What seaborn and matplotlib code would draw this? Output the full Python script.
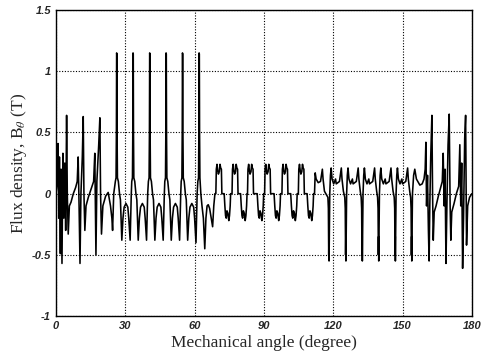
import matplotlib
matplotlib.use("Agg")
import matplotlib.pyplot as plt
import seaborn as sns
import pandas as pd

# ---- data: (mechanical angle in degrees, flux density in T) ----
seg_start = [(0.0, 0.0), (0.5, 0.08), (0.9, 0.41), (1.2, -0.2), (1.5, 0.3), (1.9, -0.49),
             (2.2, 0.2), (2.6, -0.57), (3.0, 0.33), (3.4, -0.2), (3.8, 0.25), (4.2, -0.3),
             (4.6, 0.64), (4.9, 0.0), (5.3, -0.33), (5.8, -0.1), (6.5, -0.07), (7.5, 0.0),
             (8.5, 0.05), (9.2, 0.1), (9.6, 0.3), (10.0, -0.1), (10.4, -0.57), (10.8, 0.0),
             (11.4, 0.3), (11.8, 0.63), (12.1, 0.0), (12.5, -0.3), (13.0, -0.1), (14.0, -0.03),
             (15.4, 0.05), (16.3, 0.1), (16.8, 0.33), (17.3, -0.5), (17.7, 0.1), (18.5, 0.4),
             (19.0, 0.62), (19.3, 0.0), (19.7, -0.33), (20.3, -0.1), (21.5, -0.02), (22.6, 0.01),
             (23.6, -0.1), (24.2, -0.2), (24.5, -0.3), (25.0, 0.0)]

seg_spikes = [(25.7, 0.10), (26.0, 0.13), (26.15, 0.5), (26.25, 1.15), (26.35, 1.14), (26.45, 0.5), (26.6, 0.13),
              (27.0, 0.10), (27.5, 0.0), (27.9, -0.05), (28.5, -0.38), (29.0, -0.2), (29.5, -0.11),
              (30.3, -0.08), (31.1, -0.11), (31.5, -0.2), (32.1, -0.38), (32.6, 0.0),
              (32.8, 0.10), (33.1, 0.13), (33.25, 0.5), (33.35, 1.15), (33.45, 1.14), (33.55, 0.5), (33.7, 0.13),
              (34.1, 0.10), (34.6, 0.0), (35.0, -0.05), (35.6, -0.38), (36.1, -0.2), (36.6, -0.11),
              (37.4, -0.08), (38.2, -0.11), (38.6, -0.2), (39.2, -0.38), (39.7, 0.0),
              (40.0, 0.10), (40.3, 0.13), (40.45, 0.5), (40.55, 1.15), (40.65, 1.14), (40.75, 0.5), (40.9, 0.13),
              (41.3, 0.10), (41.8, 0.0), (42.2, -0.05), (42.8, -0.38), (43.3, -0.2), (43.8, -0.11),
              (44.6, -0.08), (45.4, -0.11), (45.8, -0.2), (46.4, -0.38), (46.9, 0.0),
              (47.1, 0.10), (47.4, 0.13), (47.55, 0.5), (47.65, 1.15), (47.75, 1.14), (47.85, 0.5), (48.0, 0.13),
              (48.4, 0.10), (48.9, 0.0), (49.3, -0.05), (49.9, -0.38), (50.4, -0.2), (50.9, -0.11),
              (51.7, -0.08), (52.5, -0.11), (52.9, -0.2), (53.5, -0.38), (54.0, 0.0),
              (54.2, 0.10), (54.5, 0.13), (54.65, 0.5), (54.75, 1.15), (54.85, 1.14), (54.95, 0.5), (55.1, 0.13),
              (55.5, 0.10), (56.0, 0.0), (56.4, -0.05), (57.0, -0.38), (57.5, -0.2), (58.0, -0.11),
              (58.8, -0.08), (59.6, -0.11), (60.0, -0.2), (60.6, -0.40), (61.1, 0.0),
              (61.4, 0.10), (61.7, 0.13), (61.85, 0.5), (61.95, 1.15), (62.05, 1.14), (62.15, 0.5), (62.3, 0.13),
              (62.7, 0.0), (63.2, -0.1), (63.8, -0.2), (64.4, -0.45), (64.9, -0.2), (65.4, -0.1),
              (65.9, -0.09), (66.5, -0.12), (67.2, -0.2), (67.8, -0.27), (68.3, -0.1), (68.8, 0.0)]

seg_square = [(69.2, 0.0), (69.4, 0.2), (69.7, 0.24), (70.0, 0.19), (70.3, 0.16), (70.7, 0.18),
              (71.0, 0.24), (71.3, 0.21), (71.6, 0.2), (71.8, 0.0),
              (72.8, 0.0), (73.1, -0.1), (73.4, -0.18), (73.7, -0.2), (74.0, -0.14), (74.4, -0.16),
              (74.8, -0.22), (75.1, -0.18), (75.4, -0.1), (75.6, 0.0),
              (76.2, 0.0), (76.4, 0.2), (76.7, 0.24), (77.0, 0.19), (77.3, 0.16), (77.7, 0.18),
              (78.0, 0.24), (78.3, 0.21), (78.6, 0.2), (78.8, 0.0),
              (79.9, 0.0), (80.2, -0.1), (80.5, -0.18), (80.8, -0.2), (81.1, -0.14), (81.5, -0.16),
              (81.9, -0.22), (82.2, -0.18), (82.5, -0.1), (82.7, 0.0),
              (82.9, 0.0), (83.1, 0.2), (83.4, 0.24), (83.7, 0.19), (84.0, 0.16), (84.4, 0.18),
              (84.7, 0.24), (85.0, 0.21), (85.3, 0.2), (85.5, 0.0),
              (87.1, 0.0), (87.4, -0.1), (87.7, -0.18), (88.0, -0.2), (88.3, -0.14), (88.7, -0.16),
              (89.1, -0.22), (89.4, -0.18), (89.7, -0.1), (89.9, 0.0),
              (90.3, 0.0), (90.5, 0.2), (90.8, 0.24), (91.1, 0.19), (91.4, 0.16), (91.8, 0.18),
              (92.1, 0.24), (92.4, 0.21), (92.7, 0.2), (92.9, 0.0),
              (94.4, 0.0), (94.7, -0.1), (95.0, -0.18), (95.3, -0.2), (95.6, -0.14), (96.0, -0.16),
              (96.4, -0.22), (96.7, -0.18), (97.0, -0.1), (97.2, 0.0),
              (97.8, 0.0), (98.0, 0.2), (98.3, 0.24), (98.6, 0.19), (98.9, 0.16), (99.3, 0.18),
              (99.6, 0.24), (99.9, 0.21), (100.2, 0.2), (100.4, 0.0),
              (101.6, 0.0), (101.9, -0.1), (102.2, -0.18), (102.5, -0.2), (102.8, -0.14), (103.2, -0.16),
              (103.6, -0.22), (103.9, -0.18), (104.2, -0.1), (104.4, 0.0),
              (104.9, 0.0), (105.1, 0.2), (105.4, 0.24), (105.7, 0.19), (106.0, 0.16), (106.4, 0.18),
              (106.7, 0.24), (107.0, 0.21), (107.3, 0.2), (107.5, 0.0),
              (108.7, 0.0), (109.0, -0.1), (109.3, -0.18), (109.6, -0.2), (109.9, -0.14), (110.3, -0.16),
              (110.7, -0.22), (111.0, -0.18), (111.3, -0.1), (111.5, 0.0)]

seg_troughs = [(111.9, 0.0), (112.2, 0.17), (112.6, 0.12), (113.5, 0.09), (114.5, 0.1), (115.3, 0.2),
               (115.6, 0.12), (116.2, 0.02), (116.8, 0.0), (117.7, -0.03),
               (117.9, -0.12), (118.05, -0.5), (118.15, -0.35), (118.2, -0.55), (118.35, -0.3), (118.5, 0.0),
               (118.8, 0.15), (119.1, 0.21), (119.5, 0.12), (120.2, 0.08), (121.0, 0.12), (121.3, 0.08),
               (122.7, 0.1), (123.5, 0.21), (123.8, 0.12), (124.4, 0.02), (125.0, -0.03),
               (125.2, -0.12), (125.35, -0.5), (125.45, -0.35), (125.5, -0.55), (125.65, -0.3), (125.8, 0.0),
               (126.1, 0.15), (126.4, 0.21), (126.8, 0.12), (127.5, 0.08), (128.3, 0.12), (128.6, 0.08),
               (130.0, 0.1), (130.8, 0.21), (131.1, 0.12), (131.7, 0.02), (132.1, -0.03),
               (132.3, -0.12), (132.45, -0.5), (132.55, -0.35), (132.6, -0.55), (132.75, -0.3), (132.9, 0.0),
               (133.2, 0.15), (133.5, 0.21), (133.9, 0.12), (134.6, 0.08), (135.4, 0.12), (135.7, 0.08),
               (137.1, 0.1), (137.9, 0.21), (138.2, 0.12), (138.8, 0.02), (139.2, -0.03),
               (139.4, -0.12), (139.55, -0.5), (139.65, -0.35), (139.7, -0.55), (139.85, -0.3), (140.0, 0.0),
               (140.3, 0.15), (140.6, 0.21), (141.0, 0.12), (141.7, 0.08), (142.5, 0.12), (142.8, 0.08),
               (144.2, 0.1), (145.0, 0.21), (145.3, 0.12), (145.9, 0.02), (146.4, -0.03),
               (146.6, -0.12), (146.75, -0.5), (146.85, -0.35), (146.9, -0.55), (147.05, -0.3), (147.2, 0.0),
               (147.5, 0.15), (147.8, 0.21), (148.2, 0.12), (148.9, 0.08), (149.7, 0.12), (150.0, 0.08),
               (151.4, 0.1), (152.2, 0.21), (152.5, 0.12), (153.1, 0.02), (153.5, -0.03),
               (153.7, -0.12), (153.85, -0.5), (153.95, -0.35), (154.0, -0.55), (154.15, -0.3), (154.3, 0.0)]

seg_end = [(154.8, 0.15), (155.3, 0.2), (156.0, 0.12), (157.5, 0.07), (158.5, 0.08), (159.3, 0.12),
           (159.8, 0.2), (160.1, 0.42), (160.4, -0.1), (160.8, 0.15), (161.2, -0.3), (161.5, -0.55),
           (161.8, -0.1), (162.2, 0.3), (162.7, 0.64), (163.0, 0.0), (163.3, -0.38), (163.7, -0.15),
           (164.5, -0.1), (165.5, -0.02), (166.5, 0.05), (167.2, 0.1), (167.6, 0.33), (168.0, -0.1),
           (168.4, 0.2), (168.8, -0.57), (169.2, -0.1), (169.7, 0.4), (170.2, 0.65), (170.6, -0.1),
           (170.9, -0.38), (171.3, -0.15), (172.3, -0.08), (173.3, 0.0), (174.3, 0.06), (174.8, 0.4),
           (175.2, -0.1), (175.6, 0.25), (176.0, -0.61), (176.4, -0.2), (176.9, 0.45), (177.3, 0.64),
           (177.7, -0.42), (178.2, -0.1), (179.0, -0.03), (180.0, 0.0)]

x_ticks = [0, 30, 60, 90, 120, 150, 180]
x_tick_labels = ["0", "30", "60", "90", "120", "150", "180"]
y_ticks = [-1, -0.5, 0, 0.5, 1, 1.5]
y_tick_labels = ["-1", "-0.5", "0", "0.5", "1", "1.5"]

# ---- build table ----
points = seg_start + seg_spikes + seg_square + seg_troughs + seg_end
df = pd.DataFrame(points, columns=["angle", "flux"])

sns.set_style("white")
plt.rcParams["axes.unicode_minus"] = False
plt.rcParams["mathtext.fontset"] = "stix"

fig = plt.figure(figsize=(4.91, 3.6), dpi=100)
ax = fig.add_axes([0.114, 0.122, 0.847, 0.850])

sns.lineplot(data=df, x="angle", y="flux", sort=False, estimator=None,
             color="black", linewidth=1.15, ax=ax)

ax.set_xlim(0, 180)
ax.set_ylim(-1, 1.5)
ax.set_xticks(x_ticks)
ax.set_yticks(y_ticks)
tick_font = dict(family="Liberation Sans", style="italic", weight="bold", size=8)
ax.set_xticklabels(x_tick_labels, fontdict=tick_font)
ax.set_yticklabels(y_tick_labels, fontdict=tick_font)
ax.tick_params(direction="inout", length=4, width=0.8, color="black", pad=1.5)

ax.grid(True, color="black", linestyle=(0, (1, 1.5)), linewidth=0.8)
for sp in ax.spines.values():
    sp.set_color("black")
    sp.set_linewidth(1.0)

label_font = dict(family="Liberation Serif", size=12.5)
ax.set_xlabel("Mechanical angle (degree)", fontdict=label_font, labelpad=3)
ax.set_ylabel(r"Flux density, B$_\theta$ (T)", fontdict=label_font, labelpad=2)

fig.savefig("out.png", dpi=100)
